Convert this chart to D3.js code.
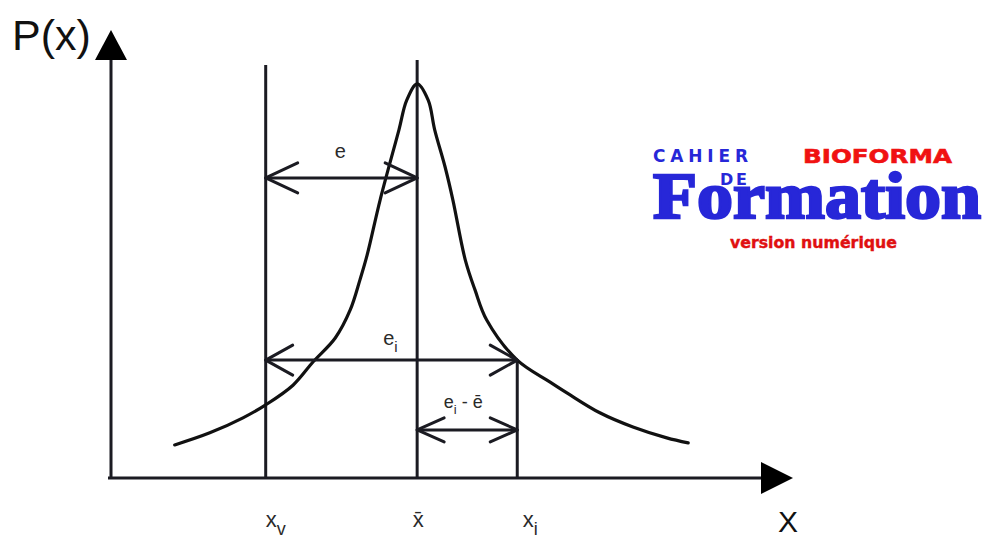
<!DOCTYPE html>
<html>
<head>
<meta charset="utf-8">
<script src="https://cdn.jsdelivr.net/npm/d3@7"></script>
<style>
  html, body { margin: 0; padding: 0; background: #fff; }
  svg { display: block; }
</style>
</head>
<body>
<svg id="chart" width="987" height="539"></svg>
<script>
// Probability density P(x) sampled along X (arbitrary units, 0–100)
const curveX = [9.8, 15.2, 20.3, 23.8, 28.0, 31.1, 34.5, 36.8, 38.3, 39.4, 41.4, 44.3, 45.5, 47.1,
                48.8, 49.8, 51.4, 52.6, 54.5, 56.0, 57.8, 62.5, 67.5, 70.2, 75.2, 80.3, 85.5, 88.8];
const curveP = [7.9, 10.8, 14.4, 17.5, 22.2, 27.8, 33.5, 40.2, 47.4, 53.3, 66.5, 83.3, 90.4, 94.3,
                90.4, 83.3, 74.4, 66.5, 52.2, 45.0, 37.8, 28.2, 23.0, 20.3, 15.6, 12.2, 9.6, 8.4];

// Reference positions on X: x_v, mean x̄, x_i, and the height each guide line reaches
const markerKeys = ["xv", "xbar", "xi"];
const markerX    = [23.8, 47.1, 62.5];
const markerTop  = [98.8, 100, 28.2];

// Deviation spans between markers, and the P level at which each is drawn
const spanFrom  = ["xv", "xv", "xbar"];
const spanTo    = ["xbar", "xi", "xi"];
const spanLevel = [71.8, 28.2, 11.5];

const svg = d3.select("#chart");
const ink = "#1b1b22";

const x = d3.scaleLinear().domain([0, 100]).range([111, 761]);
const y = d3.scaleLinear().domain([0, 100]).range([478, 60]);
const mx = k => x(markerX[markerKeys.indexOf(k)]);

// Axes
svg.append("line").attr("x1", 108).attr("x2", x(100)).attr("y1", y(0)).attr("y2", y(0))
  .attr("stroke", ink).attr("stroke-width", 3.2);
svg.append("line").attr("x1", x(0)).attr("x2", x(0)).attr("y1", y(0) + 1).attr("y2", y(100))
  .attr("stroke", ink).attr("stroke-width", 3);
svg.append("path")
  .attr("d", `M${x(100)},${y(0) - 16}L${x(100) + 32},${y(0)}L${x(100)},${y(0) + 16}Z`)
  .attr("fill", "#000");
svg.append("path")
  .attr("d", `M${x(0) - 16},${y(100)}L${x(0)},${y(100) - 30}L${x(0) + 16},${y(100)}Z`)
  .attr("fill", "#000");

svg.append("text").attr("x", 12).attr("y", 50)
  .attr("font-family", "Liberation Sans, Arial, sans-serif").attr("font-size", 43)
  .attr("fill", "#111").text("P(x)");
svg.append("text").attr("x", 788).attr("y", 532).attr("text-anchor", "middle")
  .attr("font-family", "Liberation Sans, Arial, sans-serif").attr("font-size", 30)
  .attr("fill", "#111").text("X");

// Vertical guide lines
svg.selectAll("line.guide").data(markerKeys).join("line")
  .attr("class", "guide")
  .attr("x1", (d, i) => x(markerX[i])).attr("x2", (d, i) => x(markerX[i]))
  .attr("y1", y(0)).attr("y2", (d, i) => y(markerTop[i]))
  .attr("stroke", ink).attr("stroke-width", 3);

// Density curve
const line = d3.line().x((d, i) => x(curveX[i])).y((d, i) => y(curveP[i]))
  .curve(d3.curveCatmullRom.alpha(0.5));
svg.append("path").datum(curveX).attr("d", line)
  .attr("fill", "none").attr("stroke", "#111").attr("stroke-width", 3.2)
  .attr("stroke-linejoin", "round").attr("stroke-linecap", "round");

// Double-headed span arrows with open chevron heads
const heads = [[32, 15], [27, 15], [27, 12]];
spanLevel.forEach((lv, i) => {
  const x1 = mx(spanFrom[i]), x2 = mx(spanTo[i]), yy = y(lv);
  const [hx, hy] = heads[i];
  const g = svg.append("g").attr("fill", "none").attr("stroke", ink)
    .attr("stroke-width", 3).attr("stroke-linecap", "round").attr("stroke-linejoin", "round");
  g.append("line").attr("x1", x1).attr("x2", x2).attr("y1", yy).attr("y2", yy);
  g.append("path").attr("d", `M${x1 + hx},${yy - hy}L${x1},${yy}L${x1 + hx},${yy + hy}`);
  g.append("path").attr("d", `M${x2 - hx},${yy - hy}L${x2},${yy}L${x2 - hx},${yy + hy}`);
});

// Span labels
const labelFont = "Liberation Sans, Arial, sans-serif";
svg.append("text").attr("x", (mx("xv") + mx("xbar")) / 2 - 1).attr("y", y(spanLevel[0]) - 20)
  .attr("text-anchor", "middle").attr("font-family", labelFont).attr("font-size", 20)
  .attr("fill", "#2a2a2a").text("e");

const ei = svg.append("text").attr("x", (mx("xv") + mx("xi")) / 2 - 1).attr("y", y(spanLevel[1]) - 15)
  .attr("text-anchor", "middle").attr("font-family", labelFont).attr("font-size", 20)
  .attr("fill", "#2a2a2a");
ei.append("tspan").text("e");
ei.append("tspan").attr("dy", 7).attr("font-size", 15).text("i");

const eie = svg.append("text").attr("x", (mx("xbar") + mx("xi")) / 2 - 4).attr("y", y(spanLevel[2]) - 22)
  .attr("text-anchor", "middle").attr("font-family", labelFont).attr("font-size", 18)
  .attr("fill", "#2a2a2a");
eie.append("tspan").text("e");
eie.append("tspan").attr("dy", 6).attr("font-size", 13).text("i");
eie.append("tspan").attr("dy", -6).text(" - ē");

// Marker labels under the X axis
const markerLabels = [["x", "v"], ["x̄", ""], ["x", "i"]];
const labelShift = [10, 1, 13];
markerKeys.forEach((k, i) => {
  const t = svg.append("text").attr("x", mx(k) + labelShift[i]).attr("y", 527)
    .attr("text-anchor", "middle").attr("font-family", labelFont).attr("font-size", 22)
    .attr("fill", "#2a2a2a");
  t.append("tspan").text(markerLabels[i][0]);
  if (markerLabels[i][1]) t.append("tspan").attr("dy", 8).attr("font-size", 18).text(markerLabels[i][1]);
});

// Publisher mark
const blue = "#2727d8", red = "#f01212";
const logo = svg.append("g");
logo.append("text").attr("x", 653).attr("y", 162).attr("textLength", 95).attr("lengthAdjust", "spacing")
  .attr("font-family", "DejaVu Sans, sans-serif").attr("font-weight", "bold").attr("font-size", 17)
  .attr("fill", blue).text("CAHIER");
logo.append("text").attr("x", 720).attr("y", 185).attr("textLength", 27).attr("lengthAdjust", "spacing")
  .attr("font-family", "DejaVu Sans, sans-serif").attr("font-weight", "bold").attr("font-size", 16)
  .attr("fill", blue).text("DE");
logo.append("text").attr("x", 803).attr("y", 163).attr("textLength", 149).attr("lengthAdjust", "spacingAndGlyphs")
  .attr("font-family", "DejaVu Sans, sans-serif").attr("font-weight", "bold").attr("font-size", 20)
  .attr("fill", red).attr("stroke", red).attr("stroke-width", 0.6).text("BIOFORMA");
logo.append("text").attr("x", 653).attr("y", 218).attr("textLength", 328).attr("lengthAdjust", "spacingAndGlyphs")
  .attr("font-family", "Liberation Serif, serif").attr("font-weight", "bold").attr("font-size", 66)
  .attr("fill", blue).attr("stroke", blue).attr("stroke-width", 2.5).text("Formation");
logo.append("text").attr("x", 730).attr("y", 248).attr("textLength", 167).attr("lengthAdjust", "spacingAndGlyphs")
  .attr("font-family", "DejaVu Sans, sans-serif").attr("font-weight", "bold").attr("font-size", 15)
  .attr("fill", "#e01010").attr("stroke", "#e01010").attr("stroke-width", 0.4).text("version numérique");
</script>
</body>
</html>
